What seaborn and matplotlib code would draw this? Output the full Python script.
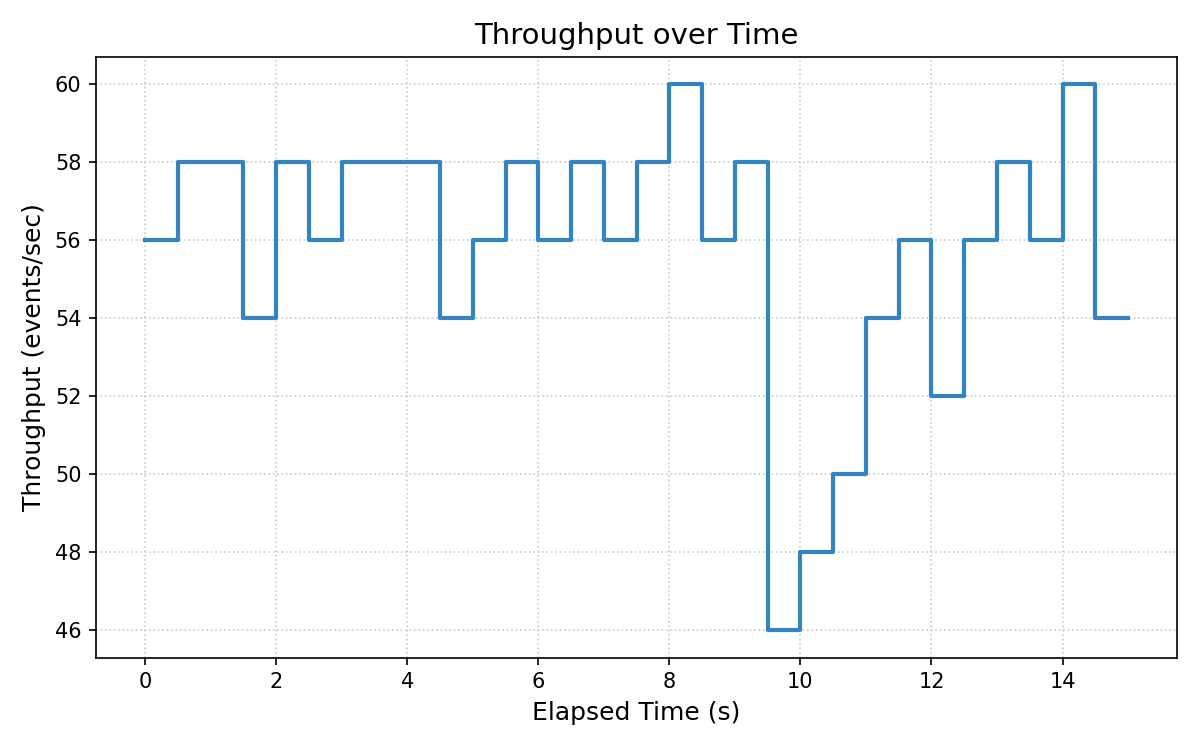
import numpy as np
import pandas as pd
import matplotlib
matplotlib.use("Agg")
import matplotlib.pyplot as plt
import seaborn as sns

# --- Data ---
elapsed_s = [0.0, 0.5, 1.0, 1.5, 2.0, 2.5, 3.0, 3.5, 4.0, 4.5, 5.0,
             5.5, 6.0, 6.5, 7.0, 7.5, 8.0, 8.5, 9.0, 9.5, 10.0,
             10.5, 11.0, 11.5, 12.0, 12.5, 13.0, 13.5, 14.0, 14.5, 15.0]
throughput = [56, 58, 58, 54, 58, 56, 58, 58, 58, 54, 56,
              58, 56, 58, 56, 58, 60, 56, 58, 46, 48,
              50, 54, 56, 52, 56, 58, 56, 60, 54, 54]

df = pd.DataFrame({"time": elapsed_s, "throughput": throughput})

# --- Plot ---
fig, ax = plt.subplots(figsize=(8, 5), dpi=150)
sns.lineplot(data=df, x="time", y="throughput", ax=ax,
             drawstyle="steps-post", color="#3385c2", linewidth=2.0)

ax.set_title("Throughput over Time", fontsize=14)
ax.set_xlabel("Elapsed Time (s)", fontsize=12)
ax.set_ylabel("Throughput (events/sec)", fontsize=12)
ax.tick_params(labelsize=10)
ax.set_yticks(range(46, 61, 2))
ax.grid(True, linestyle=":", color="#cccccc", linewidth=0.8)

fig.subplots_adjust(left=0.08, right=0.981, top=0.924, bottom=0.123)
fig.savefig("out.png")
